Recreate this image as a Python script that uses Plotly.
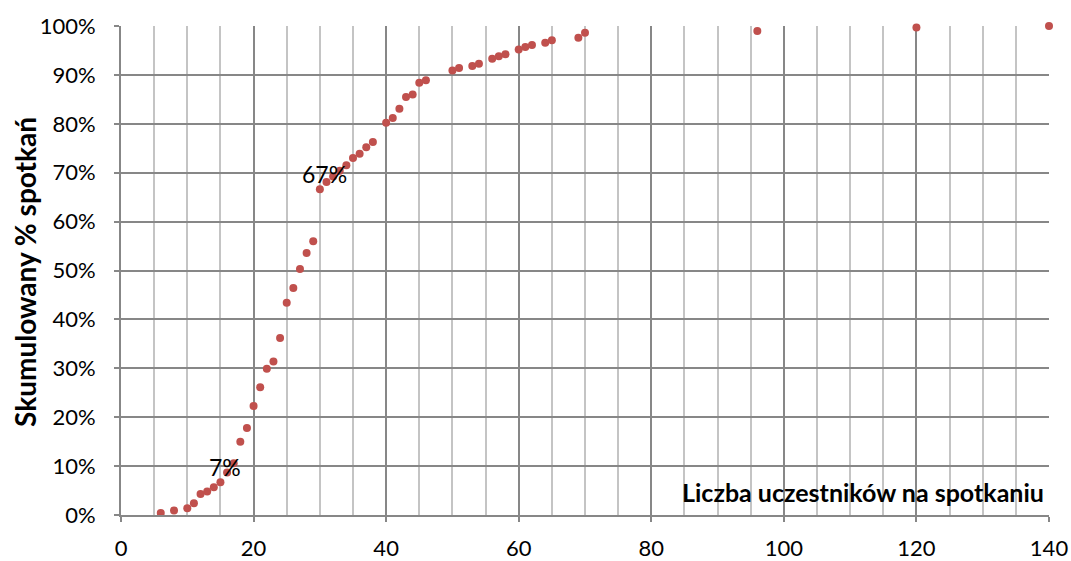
import plotly.graph_objects as go

participants = [6, 8, 10, 11, 12, 13, 14, 15, 16, 17, 18, 19, 20, 21, 22, 23, 24, 25, 26, 27,
                28, 29, 30, 31, 32, 33, 34, 35, 36, 37, 38, 40, 41, 42, 43, 44, 45, 46, 50, 51,
                53, 54, 56, 57, 58, 60, 61, 62, 64, 65, 69, 70, 96, 120, 140]
cum_pct = [0.004, 0.009, 0.014, 0.024, 0.043, 0.048, 0.057, 0.067, 0.087, 0.106,
           0.150, 0.178, 0.223, 0.261, 0.299, 0.314, 0.362, 0.434, 0.464, 0.503,
           0.536, 0.560, 0.666, 0.681, 0.692, 0.704, 0.715, 0.730, 0.739, 0.752,
           0.763, 0.802, 0.812, 0.831, 0.855, 0.860, 0.884, 0.889, 0.909, 0.914,
           0.918, 0.923, 0.933, 0.938, 0.942, 0.952, 0.957, 0.961, 0.966, 0.971,
           0.976, 0.986, 0.990, 0.997, 1.000]
labelled_x = [15, 30]

FONT = "Lato"
GRID_DARK = "#878787"
GRID_LIGHT = "#c4c4c4"

fig = go.Figure()
fig.add_trace(go.Scatter(
    x=participants, y=cum_pct, mode="markers",
    marker=dict(color="#C0504D", size=8, line=dict(width=0)),
    showlegend=False, hoverinfo="x+y", cliponaxis=False,
))

for lx in labelled_x:
    i = participants.index(lx)
    fig.add_annotation(x=participants[i], y=cum_pct[i], text=f"{round(cum_pct[i]*100)}%",
                       showarrow=False, xshift=5, yshift=15,
                       xanchor="center", yanchor="middle",
                       font=dict(family=FONT, size=23, color="#000000"))

fig.add_annotation(xref="paper", yref="paper", x=0.7997, y=0.0476,
                   xanchor="center", yanchor="middle",
                   text="<b>Liczba uczestników na spotkaniu</b>", showarrow=False,
                   font=dict(family=FONT, size=25, color="#000000"))
fig.add_annotation(xref="paper", yref="paper", x=-0.103, y=0.498, textangle=-90,
                   xanchor="center", yanchor="middle",
                   text="<b>Skumulowany % spotkań</b>", showarrow=False,
                   font=dict(family=FONT, size=28, color="#000000"))

fig.update_xaxes(range=[0, 140], tick0=0, dtick=20,
                 showgrid=True, gridcolor=GRID_DARK, gridwidth=2,
                 minor=dict(dtick=5, showgrid=True, gridcolor=GRID_LIGHT, gridwidth=2),
                 ticks="outside", ticklen=5, tickwidth=2, tickcolor=GRID_DARK,
                 ticklabelstandoff=8,
                 showline=True, linecolor=GRID_DARK, linewidth=2,
                 zeroline=False,
                 tickfont=dict(family=FONT, size=22, color="#000000"))
fig.update_yaxes(range=[0, 1], tick0=0, dtick=0.1, tickformat=".0%",
                 showgrid=True, gridcolor=GRID_DARK, gridwidth=2,
                 ticks="outside", ticklen=5, tickwidth=2, tickcolor=GRID_DARK,
                 ticklabelstandoff=14,
                 showline=True, linecolor=GRID_DARK, linewidth=2,
                 zeroline=False,
                 tickfont=dict(family=FONT, size=22, color="#000000"))

fig.update_layout(
    width=1071, height=561,
    margin=dict(l=121, r=22, t=26, b=46, autoexpand=False),
    plot_bgcolor="#ffffff", paper_bgcolor="#ffffff",
    font=dict(family=FONT),
)

fig.write_html("out.html", config={"displayModeBar": False},
               post_script="document.body.style.margin='0';document.body.style.overflow='hidden';")
